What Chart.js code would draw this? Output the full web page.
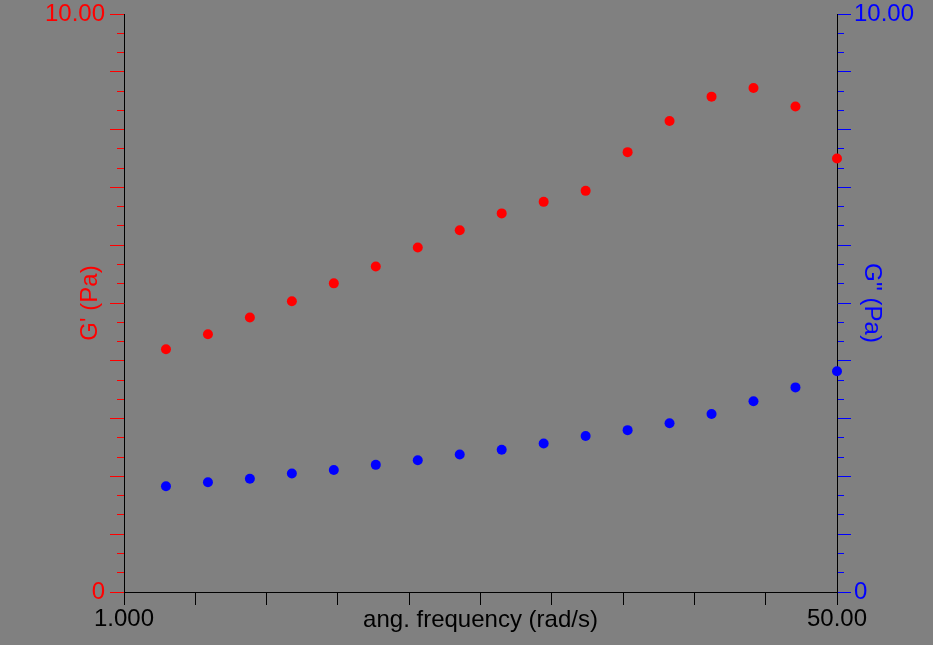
<!DOCTYPE html>
<html>
<head>
<meta charset="utf-8">
<script src="https://cdn.jsdelivr.net/npm/chart.js@4"></script>
<style>
  html, body { margin: 0; padding: 0; background: #808080; }
  canvas { display: block; }
</style>
</head>
<body>
<canvas id="chart" width="933" height="645"></canvas>
<script>
// frequency sweep, rad/s
const freq = [1.259, 1.585, 1.995, 2.512, 3.162, 3.981, 5.012, 6.310, 7.943,
              10.00, 12.59, 15.85, 19.95, 25.12, 31.62, 39.81, 50.00];
// storage modulus G' (Pa)
const gPrime = [4.20, 4.46, 4.75, 5.03, 5.34, 5.63, 5.96, 6.26, 6.55,
                6.75, 6.94, 7.61, 8.15, 8.57, 8.72, 8.40, 7.50];
// loss modulus G'' (Pa)
const gDoublePrime = [1.83, 1.90, 1.96, 2.05, 2.11, 2.20, 2.28, 2.38, 2.46,
                      2.57, 2.70, 2.80, 2.92, 3.08, 3.30, 3.54, 3.82];

const xTickLabels = ['1.000', '50.00'];
const yTickLabels = ['0', '10.00'];

const TICK_LEN = 14;

Chart.defaults.font.family = '"Liberation Sans", Arial, sans-serif';
Chart.defaults.font.size = 24;

// only the end ticks carry a label
function endLabels(labels) {
    return (v, i, ticks) => i === 0 ? labels[0] : (i === ticks.length - 1 ? labels[1] : '');
}

// 10 major divisions with 2 minor ticks between each
function yTicks(scale) {
    scale.ticks = Array.from({length: 31}, (_, i) => ({value: i * 10 / 30}));
}

// every third tick is a major one; minor ticks only show the half next to the axis,
// done with a hard-stop gradient so it doesn't depend on stroke direction
function tickColor(position, color) {
    return ctx => {
        if (ctx.index % 3 === 0) return color;
        const s = ctx.scale;
        const c = s.chart.ctx;
        let g;
        if (position === 'left') {
            g = c.createLinearGradient(s.right - TICK_LEN, 0, s.right, 0);
        } else {
            g = c.createLinearGradient(s.left + TICK_LEN, 0, s.left, 0);
        }
        g.addColorStop(0, 'rgba(0,0,0,0)');
        g.addColorStop(0.5, 'rgba(0,0,0,0)');
        g.addColorStop(0.5, color);
        g.addColorStop(1, color);
        return g;
    };
}

function yAxis(position, color, title, width, labelPad, titlePad) {
    return {
        type: 'linear',
        position: position,
        min: 0,
        max: 10,
        bounds: 'data',
        afterBuildTicks: yTicks,
        afterFit: s => { s.width = width; s.paddingTop = 0; s.paddingBottom = 0; },
        border: { display: true, color: '#000', width: 1 },
        grid: {
            drawOnChartArea: false,
            tickLength: TICK_LEN,
            tickColor: tickColor(position, color)
        },
        ticks: {
            color: color,
            padding: labelPad,
            autoSkip: false,
            font: { size: 24, lineHeight: 1.2 },
            callback: endLabels(yTickLabels)
        },
        title: {
            display: true,
            text: title,
            color: color,
            font: { size: 24, lineHeight: 1.2 },
            padding: { top: titlePad, bottom: 0 }
        }
    };
}

let ctx = document.getElementById('chart').getContext('2d');
let rheoChart = new Chart(ctx, {
    type: 'scatter',
    data: {
        datasets: [{
            label: "G'",
            data: freq.map((f, i) => ({x: f, y: gPrime[i]})),
            backgroundColor: '#ff0000',
            borderWidth: 0,
            pointRadius: 5,
            clip: false,
            yAxisID: 'y'
        }, {
            label: "G''",
            data: freq.map((f, i) => ({x: f, y: gDoublePrime[i]})),
            backgroundColor: '#0000ff',
            borderWidth: 0,
            pointRadius: 5,
            clip: false,
            yAxisID: 'y2'
        }]
    },
    options: {
        responsive: false,
        animation: false,
        layout: { padding: { top: 14, left: 0, right: 0, bottom: 0 } },
        plugins: {
            legend: { display: false },
            tooltip: { enabled: false }
        },
        scales: {
            x: {
                type: 'logarithmic',
                position: 'bottom',
                min: 1,
                max: 50,
                bounds: 'data',
                afterBuildTicks: s => {
                    s.ticks = Array.from({length: 11}, (_, i) => ({value: Math.pow(50, i / 10)}));
                },
                afterFit: s => { s.height = 53; s.paddingLeft = 0; s.paddingRight = 0; },
                border: { display: true, color: '#000', width: 1 },
                grid: {
                    drawOnChartArea: false,
                    tickLength: 13,
                    tickColor: '#000'
                },
                ticks: {
                    color: '#000',
                    padding: 0,
                    autoSkip: false,
                    maxRotation: 0,
                    minRotation: 0,
                    font: { size: 24, lineHeight: 1.2 },
                    callback: endLabels(xTickLabels)
                },
                title: {
                    display: true,
                    text: 'ang. frequency (rad/s)',
                    color: '#000',
                    font: { size: 24, lineHeight: 1.2 },
                    padding: { top: 0, bottom: 10.6 }
                }
            },
            y: yAxis('left', '#ff0000', "G' (Pa)", 124, 5, 76),
            y2: yAxis('right', '#0000ff', "G'' (Pa)", 96, 3, 46.6)
        }
    }
});
</script>
</body>
</html>
